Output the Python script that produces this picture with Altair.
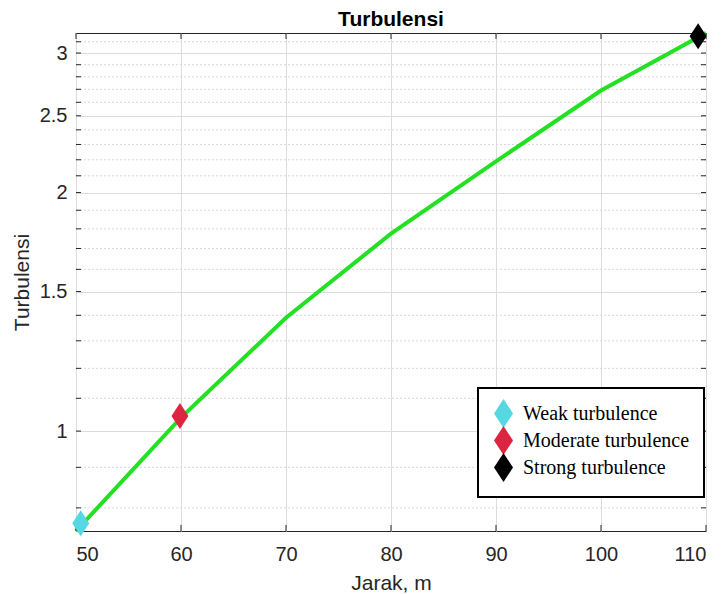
import altair as alt
import pandas as pd

# ---- data ----
distance = [50, 60, 70, 80, 90, 100, 110]
turbulence = [0.748, 1.04, 1.39, 1.775, 2.19, 2.69, 3.18]

marker_labels = ["Weak turbulence", "Moderate turbulence", "Strong turbulence"]
marker_x = [50.45, 59.9, 109.25]
marker_y = [0.765, 1.045, 3.15]
marker_colors = ["#55d8e2", "#dc2641", "#000000"]

x_ticks = [50, 60, 70, 80, 90, 100, 110]
y_major = [1, 1.5, 2, 2.5, 3]
y_minor = [0.8, 0.9, 1.1, 1.2, 1.3, 1.4, 1.6, 1.7, 1.8, 1.9,
           2.1, 2.2, 2.3, 2.4, 2.6, 2.7, 2.8, 2.9, 3.1]
x_domain = [50, 110]
y_domain = [0.748, 3.18]

W, H = 630, 498
DIAMOND = "M0,-1.3L0.85,0L0,1.3L-0.85,0Z"

line_df = pd.DataFrame({"x": distance, "y": turbulence})
mk_df = pd.DataFrame({"x": marker_x, "y": marker_y, "label": marker_labels})
minor_df = pd.DataFrame({"y": y_minor})
ytick_df = pd.DataFrame({"y": y_major + y_minor})
xtick_df = pd.DataFrame({"x": x_ticks})

xs = alt.Scale(type="linear", domain=x_domain, nice=False, zero=False)
ys = alt.Scale(type="log", domain=y_domain, nice=False)

x_axis = alt.Axis(values=x_ticks, title="Jarak, m", grid=True, ticks=False, domain=False,
                  labelFont="Liberation Sans", labelFontSize=20, labelColor="#262626",
                  titleFont="Liberation Sans", titleFontSize=21, titleFontWeight="normal",
                  titleColor="#262626", labelPadding=13, titlePadding=8,
                  gridColor="#dcdcdc", labelAngle=0)
y_axis = alt.Axis(values=y_major, title="Turbulensi", grid=True, ticks=False, domain=False,
                  format="~g", labelFont="Liberation Sans", labelFontSize=20,
                  labelColor="#262626", titleFont="Liberation Sans", titleFontSize=21,
                  titleFontWeight="normal", titleColor="#262626", labelPadding=9,
                  titlePadding=7, gridColor="#dcdcdc")

X = alt.X("x:Q", scale=xs, axis=x_axis)
Y = alt.Y("y:Q", scale=ys, axis=y_axis)

minor_grid = alt.Chart(minor_df).mark_rule(color="#d9d9d9", strokeDash=[2, 2], strokeWidth=1).encode(y=Y)

line = alt.Chart(line_df).mark_line(color="#22e022", strokeWidth=4).encode(x=X, y=Y)

tick_col = "#262626"
yt_left = alt.Chart(ytick_df).mark_rule(color=tick_col, strokeWidth=1).encode(
    y=Y, x=alt.value(0), x2=alt.value(5))
yt_right = alt.Chart(ytick_df).mark_rule(color=tick_col, strokeWidth=1).encode(
    y=Y, x=alt.value(W - 5), x2=alt.value(W))
xt_top = alt.Chart(xtick_df).mark_rule(color=tick_col, strokeWidth=1).encode(
    x=X, y=alt.value(0), y2=alt.value(6))
xt_bot = alt.Chart(xtick_df).mark_rule(color=tick_col, strokeWidth=1).encode(
    x=X, y=alt.value(H - 6), y2=alt.value(H))

markers = alt.Chart(mk_df).mark_point(filled=True, opacity=1, size=400, shape=DIAMOND).encode(
    x=X, y=Y,
    color=alt.Color("label:N",
                    scale=alt.Scale(domain=marker_labels, range=marker_colors),
                    legend=alt.Legend(orient="none", legendX=402, legendY=355, title=None,
                                      labelFont="Liberation Serif", labelFontSize=20,
                                      labelColor="#000000", symbolType=DIAMOND,
                                      symbolSize=500, symbolStrokeWidth=0,
                                      padding=14, rowPadding=-6, labelOffset=8,
                                      strokeColor="#000000", fillColor="#ffffff",
                                      cornerRadius=0, labelLimit=400)),
)

chart = alt.layer(minor_grid, line, yt_left, yt_right, xt_top, xt_bot, markers).properties(
    width=W, height=H,
    autosize=alt.AutoSizeParams(type="none"),
    padding={"left": 76, "top": 33, "right": 18, "bottom": 63},
    title=alt.Title("Turbulensi", font="Liberation Sans", fontSize=21, fontWeight="bold",
                    color="#000000", offset=7, anchor="middle", frame="group", dy=14),
).configure_view(stroke="#262626", strokeWidth=1).configure_legend(strokeWidth=2)

chart.save("out.html", embed_options={"renderer": "svg", "actions": False})
